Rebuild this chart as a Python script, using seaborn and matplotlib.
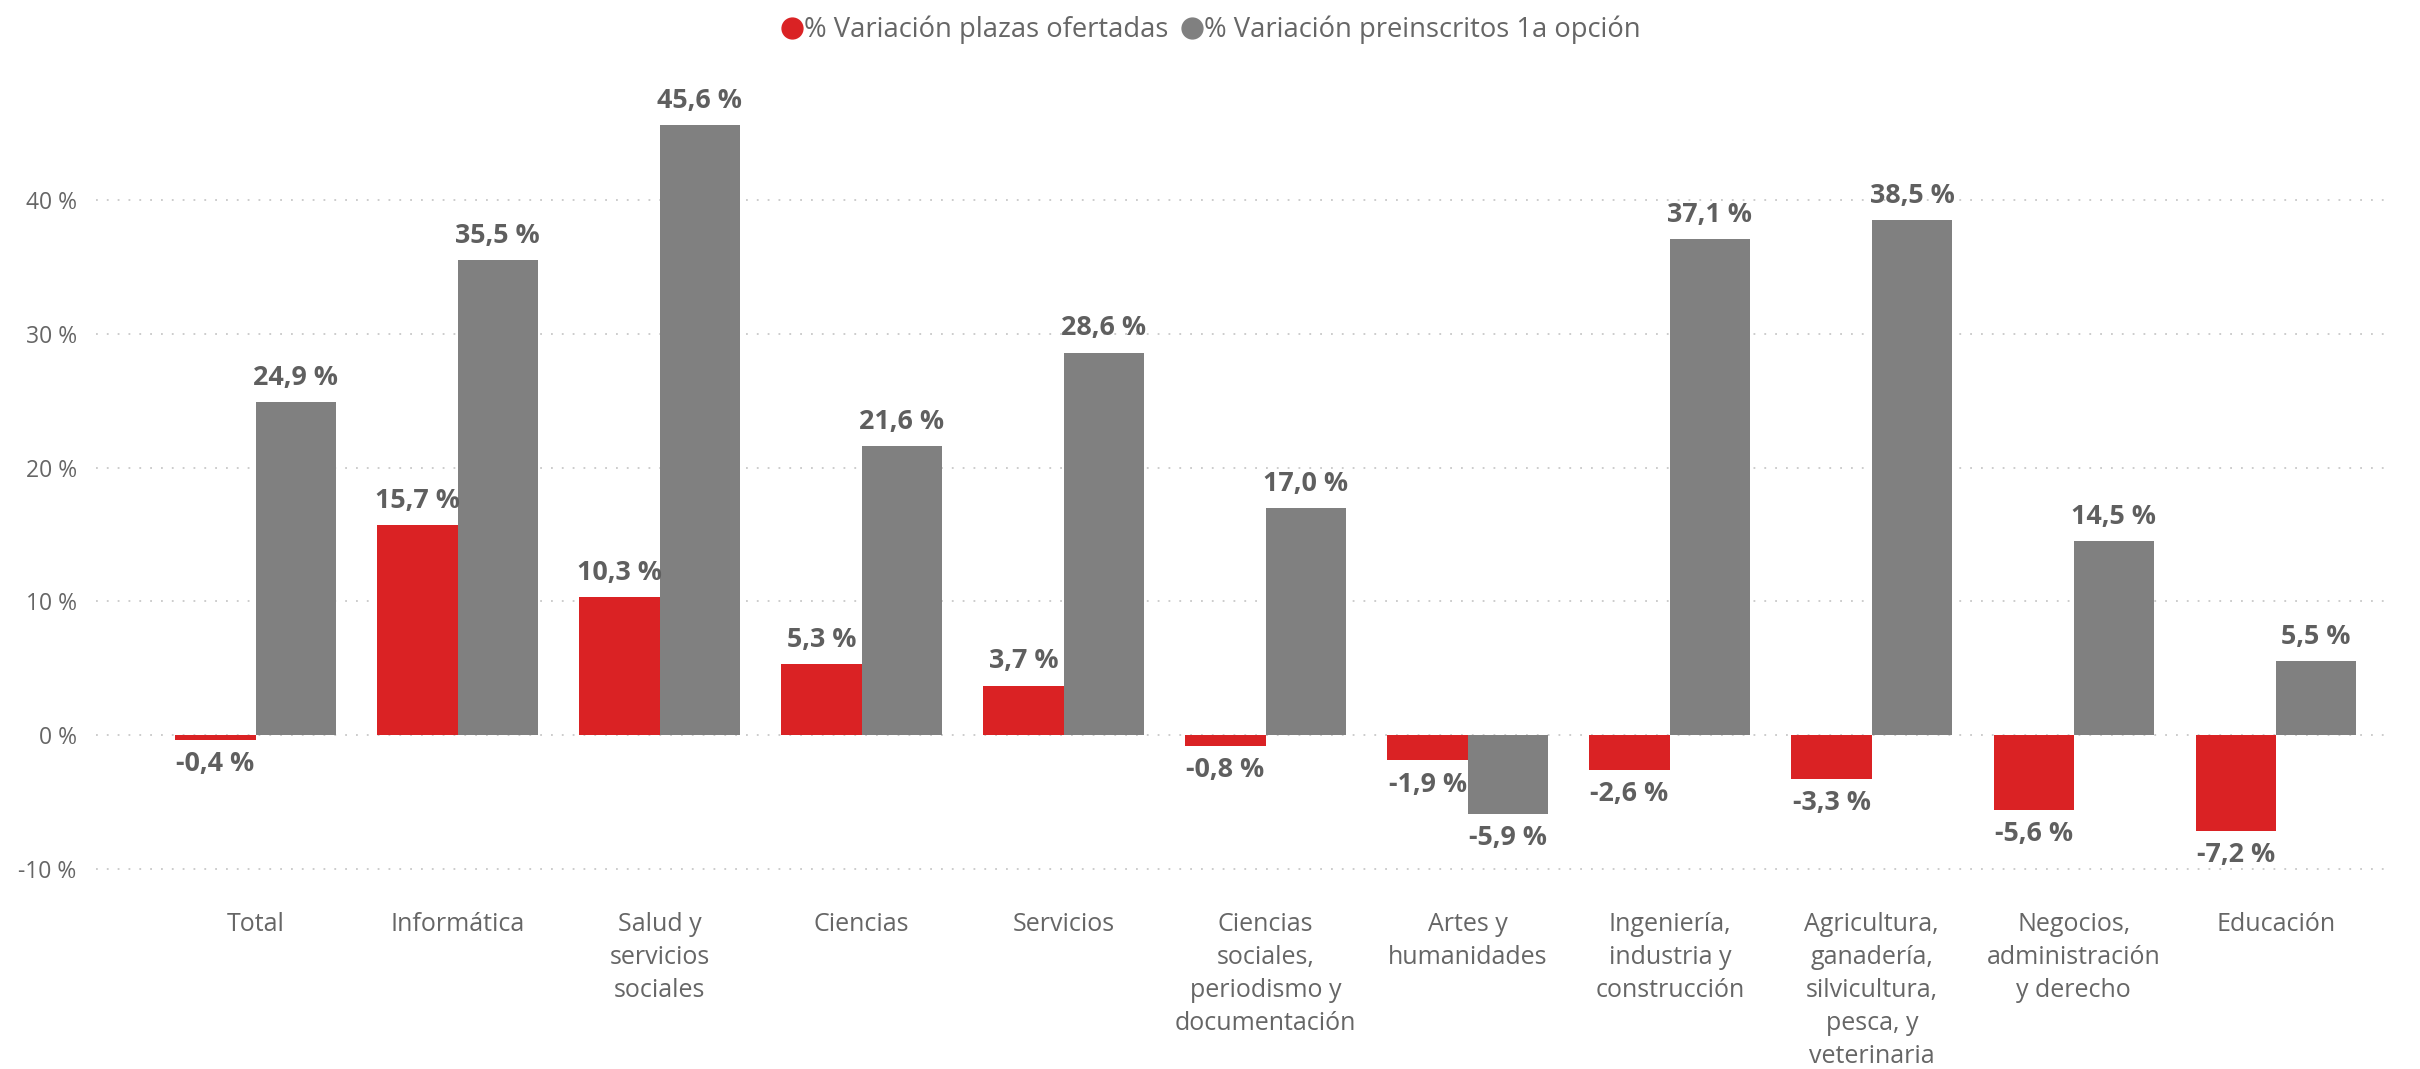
import matplotlib
matplotlib.use("Agg")
import matplotlib.pyplot as plt
from matplotlib.lines import Line2D
import seaborn as sns
import pandas as pd

categories = [
    "Total",
    "Informática",
    "Salud y\nservicios\nsociales",
    "Ciencias",
    "Servicios",
    "Ciencias\nsociales,\nperiodismo y\ndocumentación",
    "Artes y\nhumanidades",
    "Ingeniería,\nindustria y\nconstrucción",
    "Agricultura,\nganadería,\nsilvicultura,\npesca, y\nveterinaria",
    "Negocios,\nadministración\ny derecho",
    "Educación",
]
plazas = [-0.4, 15.7, 10.3, 5.3, 3.7, -0.8, -1.9, -2.6, -3.3, -5.6, -7.2]
preinscritos = [24.9, 35.5, 45.6, 21.6, 28.6, 17.0, -5.9, 37.1, 38.5, 14.5, 5.5]
series_names = ["% Variación plazas ofertadas", "% Variación preinscritos 1a opción"]
yticks = [-10, 0, 10, 20, 30, 40]

RED = "#DA2224"
GREY = "#808080"
TXT = "#666666"
LBL = "#5F5F5F"

sns.set_theme(style="white")
plt.rcParams["font.family"] = ["Open Sans", "DejaVu Sans"]

df = pd.DataFrame({
    "cat": categories * 2,
    "serie": [series_names[0]] * len(categories) + [series_names[1]] * len(categories),
    "val": plazas + preinscritos,
})

fig = plt.figure(figsize=(24.2, 10.69), dpi=100)
ax = fig.add_axes([0.0397, 0.1686, 0.9458, 0.7442])

sns.barplot(data=df, x="cat", y="val", hue="serie", order=categories,
            hue_order=series_names, palette=[RED, GREY], width=0.795,
            saturation=1, errorbar=None, ax=ax, legend=False, linewidth=0)

ax.set_ylim(-11.5, 48)
ax.set_xlim(-0.79, 10.54)
ax.set_yticks(yticks)
ax.set_yticklabels([f"{t} %" for t in yticks])
ax.yaxis.grid(True, linestyle=(0, (1, 5)), color="#C8C8C8", linewidth=1.3)
ax.set_axisbelow(True)
for s in ax.spines.values():
    s.set_visible(False)
ax.set_xlabel("")
ax.set_ylabel("")
ax.tick_params(axis="y", labelsize=16.5, labelcolor=TXT, length=0, pad=14)
ax.tick_params(axis="x", labelsize=18, labelcolor=TXT, length=0, pad=17)
for lab in ax.get_xticklabels():
    lab.set_linespacing(1.42)
    lab.set_va("top")

for cont in ax.containers:
    labels = [f"{v:.1f} %".replace(".", ",") for v in cont.datavalues]
    ax.bar_label(cont, labels=labels, padding=8, fontsize=19.4, fontweight="bold", color=LBL)

handles = [Line2D([], [], marker="o", linestyle="", markersize=15, color=RED),
           Line2D([], [], marker="o", linestyle="", markersize=15, color=GREY)]
fig.legend(handles, series_names, loc="center", bbox_to_anchor=(0.5, 1 - 30 / 1069),
           ncol=2, frameon=False, fontsize=19.7, labelcolor=TXT,
           handletextpad=0.0, columnspacing=0.4, handlelength=0.9)

fig.savefig("out.png", dpi=100)
